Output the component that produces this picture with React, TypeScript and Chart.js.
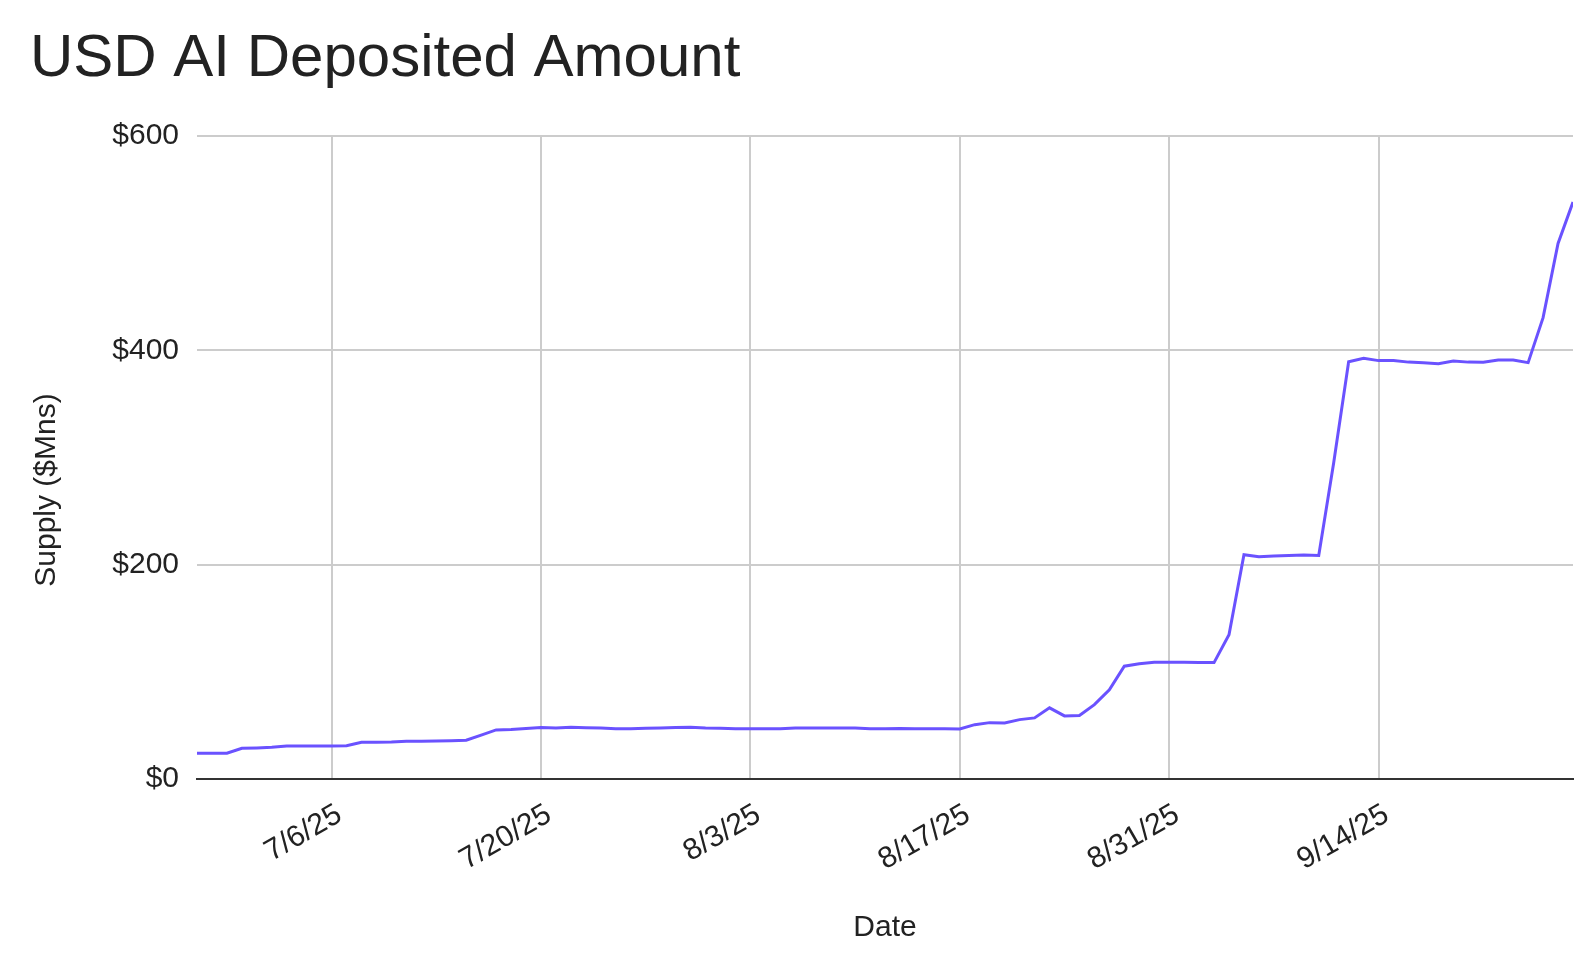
import React, { useEffect, useRef } from "react";
import { Chart, registerables } from "chart.js";

Chart.register(...registerables);

const TITLE = "USD AI Deposited Amount";
const Y_TITLE = "Supply ($Mns)";
const X_TITLE = "Date";

const DATES = [
  "6/27/25", "6/28/25", "6/29/25", "6/30/25",
  "7/1/25", "7/2/25", "7/3/25", "7/4/25", "7/5/25", "7/6/25", "7/7/25", "7/8/25", "7/9/25", "7/10/25",
  "7/11/25", "7/12/25", "7/13/25", "7/14/25", "7/15/25", "7/16/25", "7/17/25", "7/18/25", "7/19/25", "7/20/25",
  "7/21/25", "7/22/25", "7/23/25", "7/24/25", "7/25/25", "7/26/25", "7/27/25", "7/28/25", "7/29/25", "7/30/25", "7/31/25",
  "8/1/25", "8/2/25", "8/3/25", "8/4/25", "8/5/25", "8/6/25", "8/7/25", "8/8/25", "8/9/25", "8/10/25",
  "8/11/25", "8/12/25", "8/13/25", "8/14/25", "8/15/25", "8/16/25", "8/17/25", "8/18/25", "8/19/25", "8/20/25",
  "8/21/25", "8/22/25", "8/23/25", "8/24/25", "8/25/25", "8/26/25", "8/27/25", "8/28/25", "8/29/25", "8/30/25", "8/31/25",
  "9/1/25", "9/2/25", "9/3/25", "9/4/25", "9/5/25", "9/6/25", "9/7/25", "9/8/25", "9/9/25", "9/10/25",
  "9/11/25", "9/12/25", "9/13/25", "9/14/25", "9/15/25", "9/16/25", "9/17/25", "9/18/25", "9/19/25", "9/20/25",
  "9/21/25", "9/22/25", "9/23/25", "9/24/25", "9/25/25", "9/26/25", "9/27/25",
];

const SUPPLY = [
  24, 24, 24, 28.7,
  29, 29.6, 30.8, 30.8, 30.8, 30.8, 31, 34.3, 34.4, 34.6,
  35.2, 35.3, 35.5, 35.8, 36.2, 41, 45.8, 46.3, 47.2, 48,
  47.5, 48.3, 47.8, 47.5, 47, 47, 47.3, 47.5, 48, 48.2, 47.5,
  47.3, 47, 47, 47, 47, 47.5, 47.7, 47.7, 47.7, 47.5,
  47, 47, 47.2, 47, 46.8, 46.8, 46.7, 50.7, 52.6, 52.3,
  55.4, 57, 66.4, 58.9, 59.2, 69.4, 83.2, 105.3, 107.5, 109, 109,
  109, 108.6, 108.6, 134.6, 209.3, 207.5, 208, 208.6, 209, 208.6,
  295, 389.4, 392.5, 390.4, 390.4, 389, 388.5, 387.6, 390, 389,
  388.8, 391, 391, 388.5, 430.5, 499.7, 538.3,
];

const X_TICK_DATES = ["7/6/25", "7/20/25", "8/3/25", "8/17/25", "8/31/25", "9/14/25"];
const Y_MIN = 0;
const Y_MAX = 600;
const Y_STEP = 200;

const FONT = '"Liberation Sans", Arial, Helvetica, sans-serif';
const TEXT_COLOR = "#222222";

const textPlugin = {
  id: "outerTexts",
  afterDraw(chart: any) {
    const ctx = chart.ctx;
    const area = chart.chartArea;
    ctx.save();
    ctx.fillStyle = TEXT_COLOR;
    ctx.textBaseline = "alphabetic";
    ctx.font = `60px ${FONT}`;
    ctx.textAlign = "left";
    ctx.fillText(TITLE, 30, 76);
    ctx.font = `30px ${FONT}`;
    ctx.textAlign = "center";
    ctx.fillText(X_TITLE, (area.left + area.right) / 2, 936);
    ctx.translate(55, 490);
    ctx.rotate(-Math.PI / 2);
    ctx.fillText(Y_TITLE, 0, 0);
    ctx.restore();
  },
};

export default function App() {
  const canvasRef = useRef<HTMLCanvasElement | null>(null);

  useEffect(() => {
    const canvas = canvasRef.current;
    if (!canvas) return;
    Chart.defaults.font.family = FONT;
    const tickIdx = X_TICK_DATES.map((d) => DATES.indexOf(d));
    const chart = new Chart(canvas, {
      type: "line",
      data: {
        datasets: [
          {
            label: "Supply",
            data: SUPPLY.map((v, i) => ({ x: i, y: v })),
            borderColor: "#6a52ff",
            backgroundColor: "#6a52ff",
            borderWidth: 3,
            pointRadius: 0,
            tension: 0,
            fill: false,
          },
        ],
      },
      options: {
        responsive: false,
        animation: false,
        devicePixelRatio: 1,
        layout: { padding: { left: 0, top: 136, right: 13, bottom: 0 } },
        plugins: {
          legend: { display: false },
          tooltip: { enabled: false },
          title: { display: false },
        },
        scales: {
          x: {
            type: "linear",
            min: 0,
            max: DATES.length - 1,
            afterBuildTicks: (s: any) => {
              s.ticks = tickIdx.map((v) => ({ value: v }));
            },
            afterFit: (s: any) => {
              s.height = 175;
            },
            ticks: {
              autoSkip: false,
              minRotation: 30,
              maxRotation: 30,
              padding: 18,
              labelOffset: 8,
              color: TEXT_COLOR,
              font: { size: 30, family: FONT },
              callback: (v: any) => DATES[v as number],
            },
            grid: { color: "#cccccc", lineWidth: 2, drawTicks: false },
            border: { display: true, color: "#333333", width: 2 },
          },
          y: {
            min: Y_MIN,
            max: Y_MAX,
            afterFit: (s: any) => {
              s.width = 197;
            },
            ticks: {
              stepSize: Y_STEP,
              padding: 18,
              color: TEXT_COLOR,
              font: { size: 30, family: FONT },
              callback: (v: any) => "$" + v,
            },
            grid: {
              color: (c: any) => (c.tick && c.tick.value === 0 ? "#333333" : "#cccccc"),
              lineWidth: 2,
              drawTicks: false,
            },
            border: { display: false },
          },
        },
      },
      plugins: [textPlugin],
    });
    return () => chart.destroy();
  }, []);

  return (
    <div style={{ position: "fixed", left: 0, top: 0, width: 1586, height: 954, background: "#ffffff" }}>
      <canvas ref={canvasRef} width={1586} height={954} style={{ display: "block" }} />
    </div>
  );
}
